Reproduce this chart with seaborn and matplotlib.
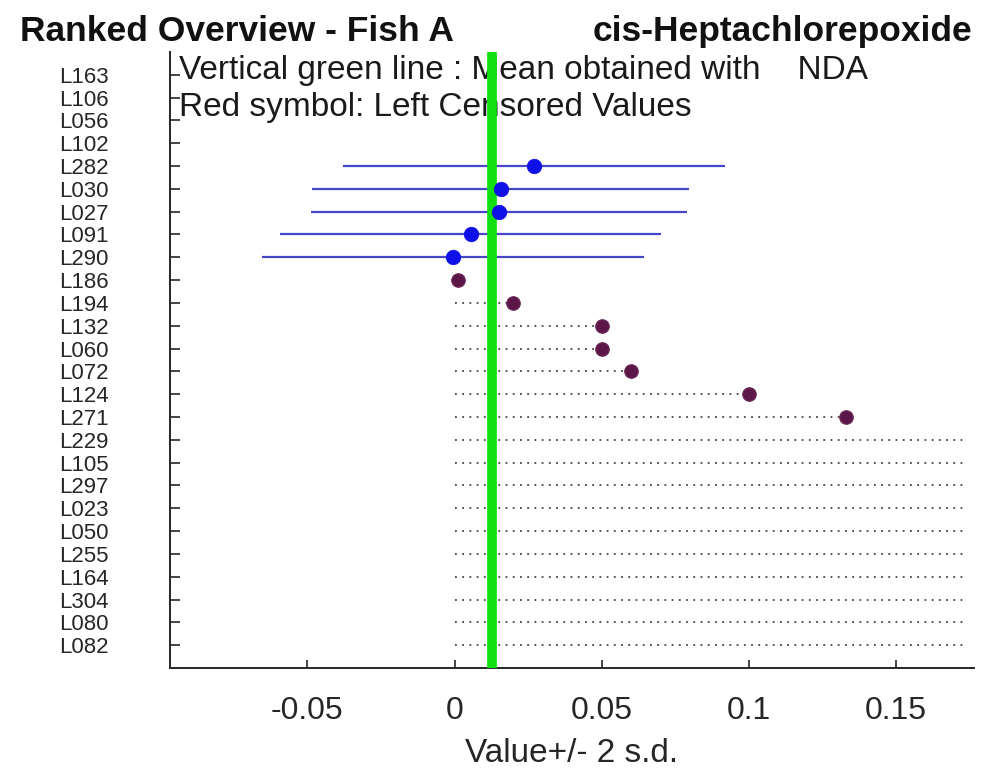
import pandas as pd
import seaborn as sns
import matplotlib.pyplot as plt

# lab codes, top to bottom (ranked)
labs = ["L163", "L106", "L056", "L102", "L282", "L030", "L027", "L091", "L290", "L186",
        "L194", "L132", "L060", "L072", "L124", "L271", "L229", "L105", "L297", "L023",
        "L050", "L255", "L164", "L304", "L080", "L082"]

# quantified results: value +/- 2 s.d.
quant_labs = ["L282", "L030", "L027", "L091", "L290"]
quant_vals = [0.027, 0.0157, 0.0151, 0.0055, -0.0005]
quant_2sd = [0.065, 0.064, 0.064, 0.0648, 0.065]

# left censored values (< LOQ)
cens_labs = ["L186", "L194", "L132", "L060", "L072", "L124", "L271"]
cens_vals = [0.001, 0.02, 0.05, 0.05, 0.06, 0.1, 0.133]

# left censored, limit beyond the plotted range
high_labs = ["L229", "L105", "L297", "L023", "L050", "L255", "L164", "L304", "L080", "L082"]
high_lim = 0.174

mean_nda = 0.0128

sns.set_theme(style="ticks")
plt.rcParams["font.family"] = ["Liberation Sans", "DejaVu Sans"]

ypos = {lab: i + 1 for i, lab in enumerate(labs)}
quant = pd.DataFrame({"lab": quant_labs, "value": quant_vals, "sd2": quant_2sd})
quant["y"] = quant["lab"].map(ypos)
cens = pd.DataFrame({"lab": cens_labs, "value": cens_vals})
cens["y"] = cens["lab"].map(ypos)
high_y = [ypos[l] for l in high_labs]

fig = plt.figure(figsize=(9.85, 7.75), dpi=100)
ax = fig.add_axes([0.1726, 0.138, 0.8162, 0.795])

# error bars
ax.hlines(quant["y"], quant["value"] - quant["sd2"], quant["value"] + quant["sd2"],
          color="#4646c8", lw=1.6, zorder=2)
# censored: dotted from 0 to the limit
ax.hlines(cens["y"], 0, cens["value"], color="#444444", lw=1.3,
          linestyles=(0, (1, 3)), zorder=2)
ax.hlines(high_y, 0, high_lim, color="#444444", lw=1.3,
          linestyles=(0, (1, 3)), zorder=2)

ax.axvline(mean_nda, color="#10e010", lw=7, zorder=3)

sns.scatterplot(data=quant, x="value", y="y", ax=ax, color="#1010e8", s=110,
                edgecolor="#1010e8", linewidth=0.5, zorder=4)
sns.scatterplot(data=cens, x="value", y="y", ax=ax, color="#5c1648", s=95,
                edgecolor="#6a2a5a", linewidth=0.8, zorder=4)

ax.set_xlim(-0.0967, 0.1765)
ax.set_ylim(27, 0)
ax.set_yticks(range(1, len(labs) + 1))
ax.set_yticklabels(labs)
ax.set_xticks([-0.05, 0, 0.05, 0.1, 0.15])
ax.set_xticklabels(["-0.05", "0", "0.05", "0.1", "0.15"])

ax.tick_params(axis="y", direction="in", length=7, width=1.2, pad=44,
               labelsize=16, colors="#262626")
ax.tick_params(axis="x", direction="in", length=6, width=1.2, pad=20,
               labelsize=23, colors="#262626")
ax.set_xlabel("Value+/- 2 s.d.", fontsize=24, labelpad=9, color="#262626")
ax.set_ylabel("")

sns.despine(ax=ax)
for side in ["left", "bottom"]:
    ax.spines[side].set_linewidth(1.4)
    ax.spines[side].set_color("#262626")

ax.text(-0.0935, 1.18, "Vertical green line : Mean obtained with    NDA",
        fontsize=24, va="baseline", color="#1a1a1a", zorder=1)
ax.text(-0.0935, 2.8, "Red symbol: Left Censored Values",
        fontsize=24, va="baseline", color="#1a1a1a", zorder=1)

fig.text(0.0203, 0.947, "Ranked Overview - Fish A", fontsize=25.5,
         fontweight="bold", va="baseline", ha="left", color="#111111")
fig.text(0.987, 0.947, "cis-Heptachlorepoxide", fontsize=25.5,
         fontweight="bold", va="baseline", ha="right", color="#111111")

fig.savefig("out.png", dpi=100)
